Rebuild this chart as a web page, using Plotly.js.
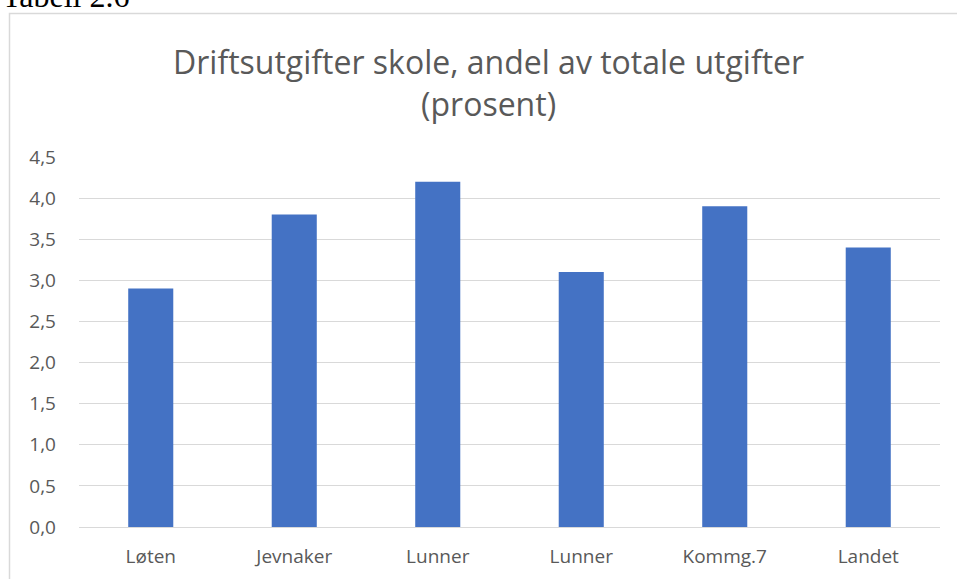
<!DOCTYPE html>
<html>
<head>
<meta charset="utf-8">
<script src="https://cdn.plot.ly/plotly-3.0.1.min.js"></script>
<style>
  html, body { margin: 0; padding: 0; background: #fff; }
  #chart { width: 957px; height: 579px; }
</style>
</head>
<body>
<div id="chart"></div>
<script>
const categories = ["Løten", "Jevnaker", "Lunner", "Lunner ", "Kommg.7", "Landet"];
const tickLabels = ["Løten", "Jevnaker", "Lunner", "Lunner", "Kommg.7", "Landet"];
const values = [2.9, 3.8, 4.2, 3.1, 3.9, 3.4];
const titleText = "Driftsutgifter skole, andel av totale utgifter<br>(prosent)";
const captionText = "Tabell 2.6";

const W = 957, H = 579;
const m = { l: 79, r: 17, t: 157, b: 52 };
const pw = W - m.l - m.r, ph = H - m.t - m.b;
const px = x => (x - m.l) / pw;
const py = y => (H - m.b - y) / ph;

const trace = {
  type: "bar",
  x: categories,
  y: values,
  marker: { color: "#4472C4" },
  hoverinfo: "x+y"
};

const layout = {
  width: W, height: H,
  margin: m,
  paper_bgcolor: "#ffffff",
  plot_bgcolor: "#ffffff",
  separators: ", ",
  bargap: 0.686,
  showlegend: false,
  font: { family: "Open Sans, sans-serif", color: "#595959", size: 18 },
  xaxis: {
    tickmode: "array",
    tickvals: categories,
    ticktext: tickLabels,
    showgrid: false,
    showline: true,
    linecolor: "#d9d9d9",
    linewidth: 1,
    ticks: "",
    ticklabelstandoff: 12,
    tickfont: { size: 19, color: "#595959" },
    fixedrange: true
  },
  yaxis: {
    range: [0, 4.5],
    dtick: 0.5,
    tick0: 0,
    tickformat: ".1f",
    showgrid: true,
    gridcolor: "#d9d9d9",
    gridwidth: 1,
    zeroline: false,
    showline: false,
    ticks: "",
    ticklabelstandoff: 22,
    tickfont: { size: 19, color: "#595959" },
    fixedrange: true
  },
  shapes: [{
    type: "rect", xref: "paper", yref: "paper",
    x0: px(9.5), x1: px(1000), y0: py(620), y1: py(13.5),
    line: { color: "#d9d9d9", width: 1.5 },
    fillcolor: "rgba(0,0,0,0)",
    layer: "below"
  }],
  annotations: [{
    text: captionText,
    xref: "paper", yref: "paper",
    x: px(0), y: py(16),
    xanchor: "left", yanchor: "bottom",
    showarrow: false,
    font: { family: "Liberation Serif, serif", size: 32, color: "#000000" }
  }, {
    text: titleText,
    xref: "paper", yref: "paper",
    x: px(488), y: py(82),
    xanchor: "center", yanchor: "middle", align: "center",
    showarrow: false,
    font: { family: "Open Sans, sans-serif", size: 32, color: "#595959" }
  }]
};

Plotly.newPlot("chart", [trace], layout, { displayModeBar: false, staticPlot: true });
</script>
</body>
</html>
